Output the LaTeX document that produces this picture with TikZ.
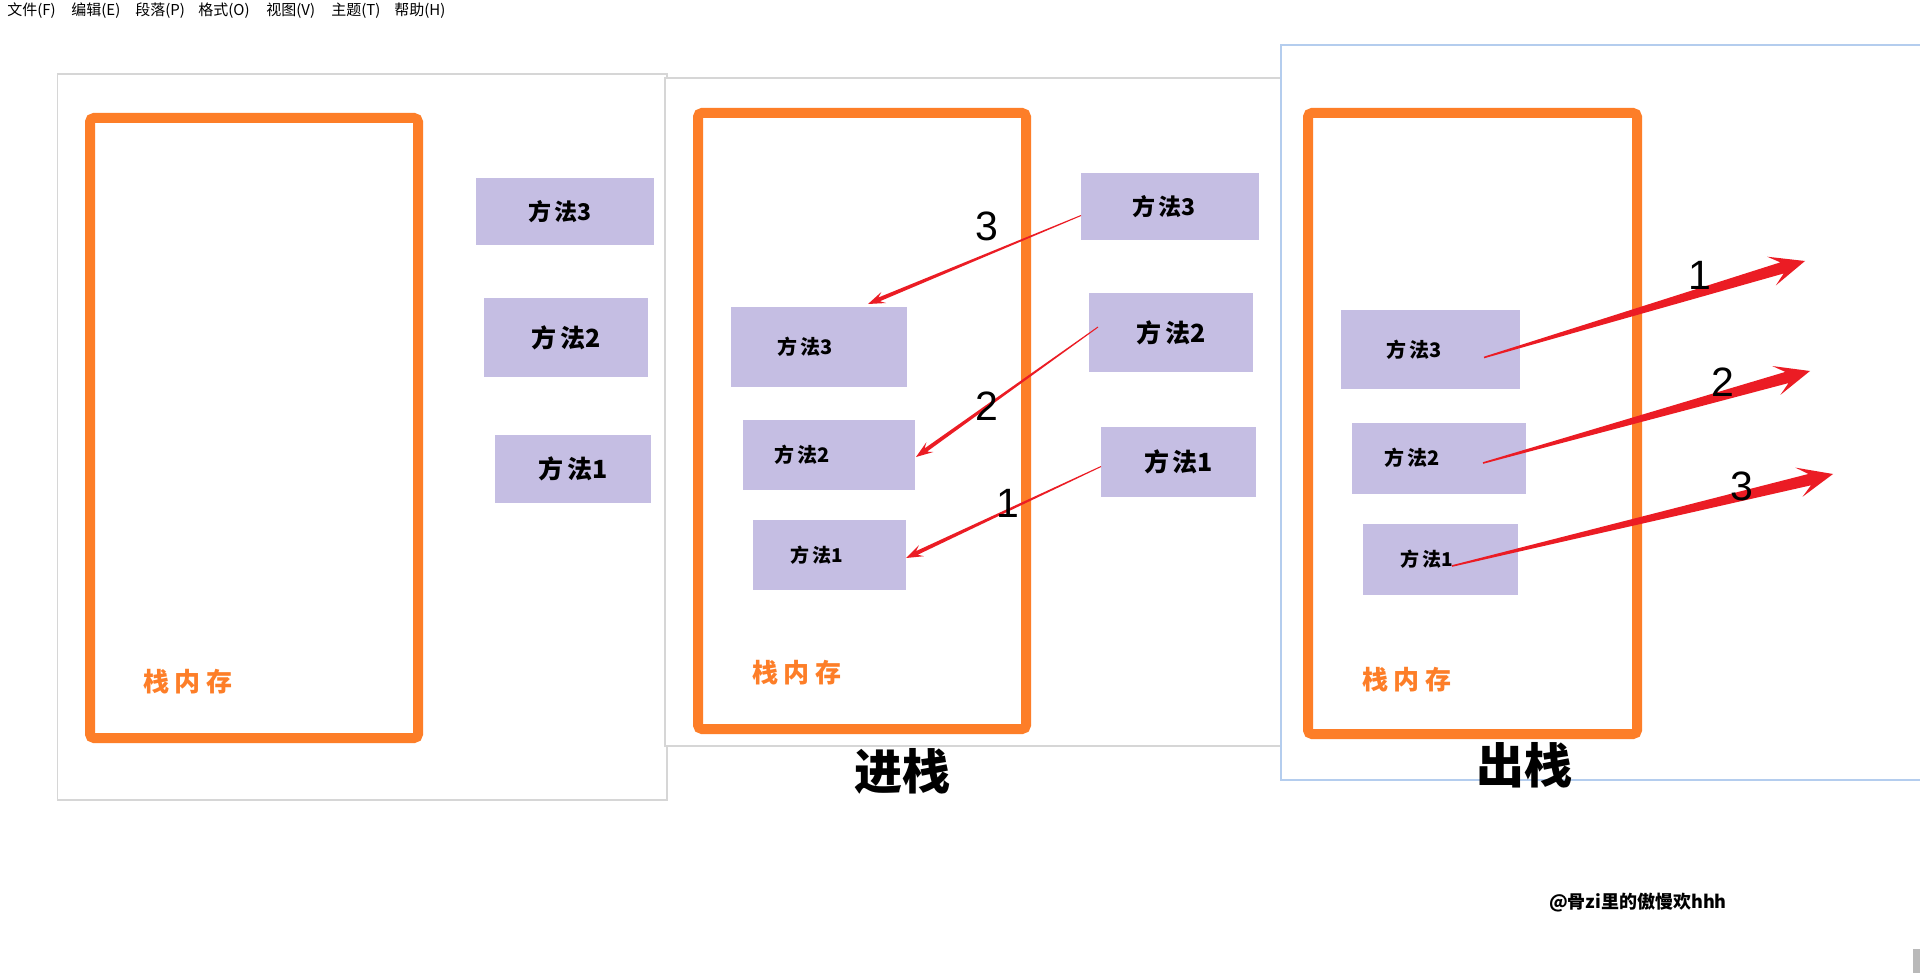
\documentclass[tikz,border=0pt]{standalone}
\usepackage{fontspec}
\setmainfont{Noto Sans CJK SC}
\newfontfamily\latfont{Liberation Sans}
\usetikzlibrary{calc}
\definecolor{stackorange}{RGB}{253,126,40}
\definecolor{boxlav}{RGB}{197,190,227}
\definecolor{arrred}{RGB}{235,28,36}
\definecolor{panelgray}{RGB}{214,214,214}
\definecolor{panelblue}{RGB}{180,205,238}
% tapered arrow: #1 start, #2 end, #3 start half width, #4 shaft half width at head,
% #5 join distance from tip, #6 head length, #7 head half width
\newcommand\taperarr[7]{%
  \path ($(#2)!#5!(#1)$) coordinate (tpB) ($(#2)!#6!(#1)$) coordinate (tpH);
  \fill[arrred] ($(#1)!#3!90:(#2)$) -- ($(tpB)!#4!90:(#2)$) -- ($(tpH)!#7!90:(#2)$)
    -- (#2) -- ($(tpH)!#7!270:(#2)$) -- ($(tpB)!#4!270:(#2)$) -- ($(#1)!#3!270:(#2)$) -- cycle;
}
\begin{document}
\begin{tikzpicture}[x=0.5pt,y=-0.5pt,
  menu/.style={anchor=west, inner sep=0pt, font=\fontsize{7.5}{9}\selectfont},
  panel/.style={fill=white, draw=panelgray, line width=0.8pt},
  stackframe/.style={draw=stackorange, line width=5pt, rounded corners=2pt},
  memlabel/.style={inner sep=0pt, text=stackorange, font=\bfseries\fontsize{13}{15}\selectfont},
  method/.style={fill=boxlav, inner sep=0pt, text=black},
  num/.style={inner sep=0pt, font=\latfont\fontsize{20.5}{24}\selectfont},
  title/.style={inner sep=0pt, font=\bfseries\fontsize{24}{28}\selectfont},
]
\useasboundingbox (0,0) rectangle (1920,973);
\fill[white] (0,0) rectangle (1920,973);

% menu bar
\node[menu] (m1) at (7,11) {文件(F)};
\node[menu] (m2) at (71,11) {编辑(E)};
\node[menu] (m3) at (135,11) {段落(P)};
\node[menu] (m4) at (198,11) {格式(O)};
\node[menu] (m5) at (266,11) {视图(V)};
\node[menu] (m6) at (331,11) {主题(T)};
\node[menu] (m7) at (394,11) {帮助(H)};

% ---------- panel 1 ----------
\draw[panel] (57.5,74) rectangle (667,800);
\draw[stackframe] (90,118) rectangle (418,738);
\node[memlabel] (mem1) at (188,682) {栈\hspace{0.2em}内\hspace{0.2em}存};
\node[method, minimum width=89pt, minimum height=33.5pt, font=\bfseries\fontsize{11.5}{13}\selectfont] (b13) at (565,211.5) {方\hspace{0.15em}法3\kern5pt};
\node[method, minimum width=82pt, minimum height=39.5pt, font=\bfseries\fontsize{12.5}{14}\selectfont] (b12) at (566,337.5) {方\hspace{0.15em}法2};
\node[method, minimum width=78pt, minimum height=34pt, font=\bfseries\fontsize{12.5}{14}\selectfont] (b11) at (573,469) {方\hspace{0.15em}法1};

% ---------- panel 2 ----------
\draw[panel] (665,78) rectangle (1281,746);
\draw[stackframe] (698,113) rectangle (1026,729);
\node[memlabel] (mem2) at (797,673) {栈\hspace{0.2em}内\hspace{0.2em}存};
\node[method, minimum width=88pt, minimum height=40pt, font=\bfseries\fontsize{10}{12}\selectfont] (i3) at (819,347) {方\hspace{0.15em}法3\kern14pt};
\node[method, minimum width=86pt, minimum height=35pt, font=\bfseries\fontsize{10}{12}\selectfont] (i2) at (829,455) {方\hspace{0.15em}法2\kern27pt};
\node[method, minimum width=76.5pt, minimum height=35pt, font=\bfseries\fontsize{9.5}{11}\selectfont] (i1) at (829.5,555) {方\hspace{0.15em}法1\kern13pt};
\node[method, minimum width=89pt, minimum height=33.5pt, font=\bfseries\fontsize{11.5}{13}\selectfont] (o3) at (1170,206.5) {方\hspace{0.15em}法3\kern6pt};
\node[method, minimum width=82pt, minimum height=39.5pt, font=\bfseries\fontsize{12.5}{14}\selectfont] (o2) at (1171,332.5) {方\hspace{0.15em}法2};
\node[method, minimum width=77.5pt, minimum height=35pt, font=\bfseries\fontsize{12.5}{14}\selectfont] (o1) at (1178.5,462) {方\hspace{0.15em}法1};

\coordinate (a3s) at (1081,215.5);
\coordinate (a3e) at (868,304);
\coordinate (a2s) at (1098,327);
\coordinate (a2e) at (916,457);
\coordinate (a1s) at (1101,466.5);
\coordinate (a1e) at (906,558);
\taperarr{a3s}{a3e}{0.25pt}{1pt}{6pt}{8.5pt}{3pt}
\taperarr{a2s}{a2e}{0.25pt}{1pt}{6pt}{8.5pt}{3pt}
\taperarr{a1s}{a1e}{0.25pt}{1pt}{6pt}{8.5pt}{3pt}
\node[num] (n3) at (987,226.5) {3};
\node[num] (n2) at (987,406.5) {2};
\node[num] (n1) at (1008,503) {1};
\node[title] (tin) at (902,771.5) {进栈};

% ---------- panel 3 ----------
\draw[fill=white, draw=panelblue, line width=1pt] (1281,45) rectangle (1925,780);
\draw[stackframe] (1308,113) rectangle (1637,734);
\node[memlabel] (mem3) at (1407,680) {栈\hspace{0.2em}内\hspace{0.2em}存};
\node[method, minimum width=89.5pt, minimum height=39.5pt, font=\bfseries\fontsize{10}{12}\selectfont] (p3) at (1430.5,349.5) {方\hspace{0.15em}法3\kern16.5pt};
\node[method, minimum width=87pt, minimum height=35.5pt, font=\bfseries\fontsize{10}{12}\selectfont] (p2) at (1439,458) {方\hspace{0.15em}法2\kern27pt};
\node[method, minimum width=77.5pt, minimum height=35.5pt, font=\bfseries\fontsize{9.5}{11}\selectfont] (p1) at (1440.5,559.5) {方\hspace{0.15em}法1\kern13.5pt};

\coordinate (c1s) at (1484,357.5);
\coordinate (c1e) at (1805,261);
\coordinate (c2s) at (1483,463);
\coordinate (c2e) at (1810,371);
\coordinate (c3s) at (1452,566);
\coordinate (c3e) at (1833,474);
\taperarr{c1s}{c1e}{0.4pt}{2.9pt}{12pt}{17.5pt}{7.5pt}
\taperarr{c2s}{c2e}{0.4pt}{2.9pt}{12pt}{17.5pt}{7.5pt}
\taperarr{c3s}{c3e}{0.4pt}{2.9pt}{12pt}{17.5pt}{7.5pt}
\node[num] (q1) at (1700,275.5) {1};
\node[num] (q2) at (1723,382) {2};
\node[num] (q3) at (1742,486) {3};
\node[title] (tout) at (1524.5,765) {出栈};

% watermark and scrollbar
\node[inner sep=0pt, font=\bfseries\fontsize{9}{11}\selectfont] (wm) at (1638,902.5) {@骨zi里的傲慢欢hhh};
\fill[gray!55] (1913,949) rectangle (1920,973);
\end{tikzpicture}
\end{document}
